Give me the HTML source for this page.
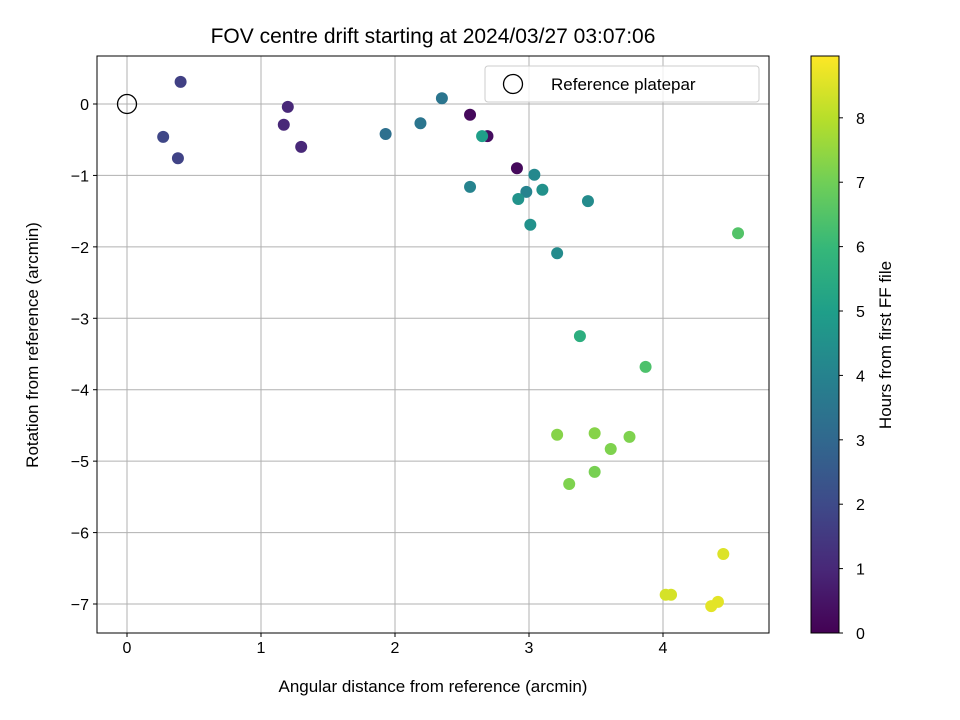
<!DOCTYPE html>
<html><head><meta charset="utf-8">
<style>body{margin:0;background:#fff}svg{display:block;font-family:"Liberation Sans","DejaVu Sans",sans-serif}</style>
</head><body>
<svg id="c" width="960" height="720"></svg>
<script>
const xVals=[0.27,0.40,0.38,1.17,1.20,1.30,1.93,2.19,2.35,2.56,2.69,2.65,2.56,2.91,3.04,2.98,2.92,3.10,3.01,3.21,3.44,4.56,3.38,3.87,3.21,3.49,3.75,3.61,3.49,3.30,4.45,4.02,4.06,4.36,4.41];
const yVals=[-0.46,0.31,-0.76,-0.29,-0.04,-0.60,-0.42,-0.27,0.08,-0.15,-0.45,-0.45,-1.16,-0.90,-0.99,-1.23,-1.33,-1.20,-1.69,-2.09,-1.36,-1.81,-3.25,-3.68,-4.63,-4.61,-4.66,-4.83,-5.15,-5.32,-6.30,-6.87,-6.87,-7.03,-6.97];
const hours=[1.9,1.7,1.8,1.0,1.0,1.0,3.3,3.5,3.5,0.2,0.3,5.0,4.0,0.2,4.2,4.0,4.6,4.5,4.5,4.3,4.3,6.5,5.6,6.4,7.3,7.3,7.2,7.2,7.1,7.2,8.5,8.4,8.4,8.6,8.6];
const xTicks=[0,1,2,3,4];
const yTicks=[0,-1,-2,-3,-4,-5,-6,-7];
const cTicks=[0,1,2,3,4,5,6,7,8];
const hMax=8.96;
const L=97,R=769,T=56,B=633;
const sx=v=>127+v*134, sy=v=>104-v*71.43, sc=v=>633-v*(577/hMax);
const vir=[[68,1,84],[72,40,120],[62,74,137],[49,104,142],[38,130,142],[31,158,137],[53,183,121],[110,206,88],[181,222,43],[253,231,37]];
function col(t){t=Math.max(0,Math.min(1,t))*9;const i=Math.min(8,Math.floor(t)),f=t-i,a=vir[i],b=vir[i+1];return `rgb(${a.map((v,k)=>Math.round(v+(b[k]-v)*f)).join(',')})`;}
const s=document.getElementById('c');const NS='http://www.w3.org/2000/svg';
function e(tag,at,txt){const el=document.createElementNS(NS,tag);for(const k in at)el.setAttribute(k,at[k]);if(txt!=null)el.textContent=txt;s.appendChild(el);return el;}
let el;
xTicks.forEach(v=>{el=e('line',{x1:sx(v),x2:sx(v),y1:T,y2:B,stroke:'#b0b0b0','stroke-width':1});
el=e('line',{x1:sx(v),x2:sx(v),y1:B,y2:B+4,stroke:'#000'});
el=e('text',{x:sx(v),y:B+20,'text-anchor':'middle','font-size':16},v);});
yTicks.forEach(v=>{el=e('line',{x1:L,x2:R,y1:sy(v),y2:sy(v),stroke:'#b0b0b0','stroke-width':1});
el=e('line',{x1:L-4,x2:L,y1:sy(v),y2:sy(v),stroke:'#000'});
el=e('text',{x:L-8,y:sy(v)+6,'text-anchor':'end','font-size':16},v<0?'\u2212'+(-v):v);});
xVals.forEach((x,i)=>{el=e('circle',{cx:sx(x),cy:sy(yVals[i]),r:6,fill:col(hours[i]/hMax)});});
el=e('circle',{cx:sx(0),cy:sy(0),r:9.5,fill:'none',stroke:'#000','stroke-width':1.3});
el=e('rect',{x:L,y:T,width:R-L,height:B-T,fill:'none',stroke:'#000','stroke-width':1});
el=e('rect',{x:485,y:66,width:274,height:36,rx:3,fill:'#fff','fill-opacity':0.8,stroke:'#ccc'});
el=e('circle',{cx:513,cy:84,r:9.5,fill:'none',stroke:'#000','stroke-width':1.3});
el=e('text',{x:551,y:90,'font-size':17},'Reference platepar');
el=e('text',{x:433,y:43,'text-anchor':'middle','font-size':21},'FOV centre drift starting at 2024/03/27 03:07:06');
el=e('text',{x:433,y:692,'text-anchor':'middle','font-size':17},'Angular distance from reference (arcmin)');
el=e('text',{x:0,y:0,'text-anchor':'middle','font-size':17,transform:'translate(38,345) rotate(-90)'},'Rotation from reference (arcmin)');
const defs=e('defs',{});const g=document.createElementNS(NS,'linearGradient');g.setAttribute('id','vg');g.setAttribute('x1',0);g.setAttribute('y1',1);g.setAttribute('x2',0);g.setAttribute('y2',0);
vir.forEach((c,i)=>{const st=document.createElementNS(NS,'stop');st.setAttribute('offset',i/9);st.setAttribute('stop-color',`rgb(${c.join(',')})`);g.appendChild(st);});defs.appendChild(g);
el=e('rect',{x:811,y:T,width:28,height:B-T,fill:'url(#vg)',stroke:'#000','stroke-width':1});
cTicks.forEach(v=>{el=e('line',{x1:839,x2:843,y1:sc(v),y2:sc(v),stroke:'#000'});
el=e('text',{x:856,y:sc(v)+6,'font-size':16},v);});
el=e('text',{x:0,y:0,'text-anchor':'middle','font-size':17,transform:'translate(891,345) rotate(-90)'},'Hours from first FF file');
</script>
</body></html>
